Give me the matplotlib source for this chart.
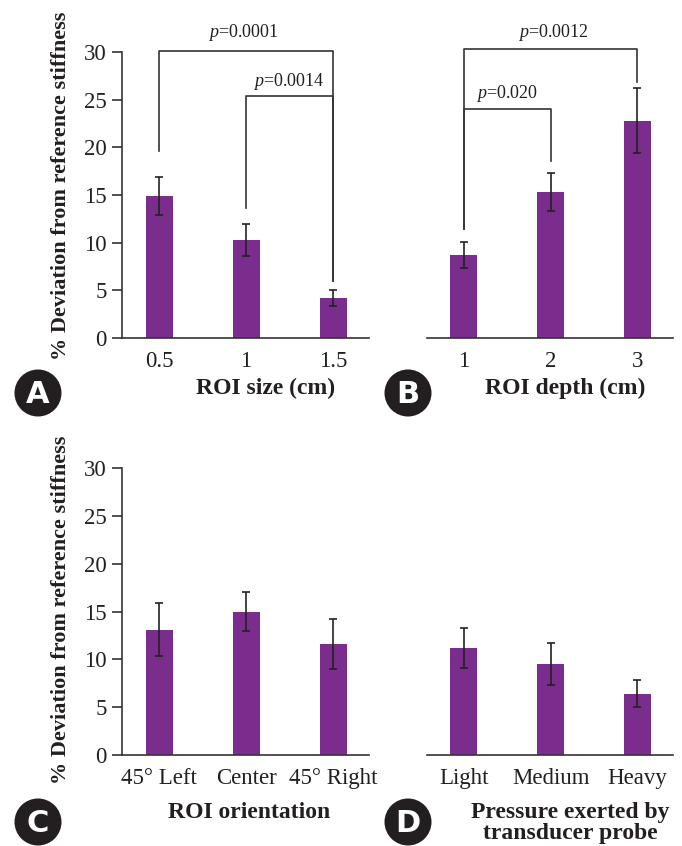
import numpy as np
import matplotlib
matplotlib.use("Agg")
import matplotlib.pyplot as plt
from matplotlib.patches import Circle

plt.rcParams['font.family'] = ['Liberation Serif', 'DejaVu Serif']
plt.rcParams['mathtext.fontset'] = 'custom'
plt.rcParams['mathtext.rm'] = 'Liberation Serif'
plt.rcParams['mathtext.it'] = 'Liberation Serif:italic'

# data
size_labels = ['0.5', '1', '1.5']
size_mean = [14.9, 10.3, 4.2]
size_err = [2.0, 1.7, 0.85]

depth_labels = ['1', '2', '3']
depth_mean = [8.7, 15.3, 22.8]
depth_err = [1.4, 2.0, 3.4]

orient_labels = ['45° Left', 'Center', '45° Right']
orient_mean = [13.1, 15.0, 11.6]
orient_err = [2.75, 2.05, 2.6]

press_labels = ['Light', 'Medium', 'Heavy']
press_mean = [11.2, 9.5, 6.4]
press_err = [2.1, 2.2, 1.4]

# brackets: (i, j, y, left leg bottom, right leg bottom, text, text x, text y)
size_brackets = [(0, 2, 30.1, 19.6, 6.0, 'p=0.0001', 0.97, 32.0),
                 (1, 2, 25.4, 13.6, 6.0, 'p=0.0014', 1.49, 26.9)]
depth_brackets = [(0, 2, 30.3, 11.4, 26.9, 'p=0.0012', 1.03, 32.0),
                  (0, 1, 24.0, 11.4, 18.6, 'p=0.020', 0.5, 25.6)]

W, H = 682, 846
fig = plt.figure(figsize=(W / 100, H / 100), dpi=100)

bar_color = '#7b2d8e'
line_color = '#333333'
text_color = '#231f20'


def make_ax(left, bottom_px, top_px, right):
    return fig.add_axes([left / W, (H - bottom_px) / H, (right - left) / W,
                         (bottom_px - top_px) / H])


def draw_panel(ax, labels, mean, err, show_y):
    x = np.arange(len(labels))
    ax.bar(x, mean, width=0.31, color=bar_color, zorder=2)
    ax.errorbar(x, mean, yerr=err, fmt='none', ecolor='#222222',
                elinewidth=1.2, capsize=3, capthick=1.2, zorder=3)
    ax.set_xlim(-0.425, 2.41)
    ax.set_ylim(0, 30)
    ax.set_xticks(x)
    ax.set_xticklabels(labels, fontsize=16.5, color=text_color)
    ax.tick_params(axis='x', length=0, pad=9)
    ax.spines['top'].set_visible(False)
    ax.spines['right'].set_visible(False)
    ax.spines['bottom'].set_color(line_color)
    ax.spines['bottom'].set_linewidth(1.2)
    if show_y:
        ax.set_yticks([0, 5, 10, 15, 20, 25, 30])
        ax.tick_params(axis='y', length=7, width=1.2, color=line_color,
                       labelsize=16.5, labelcolor=text_color, pad=4)
        ax.spines['left'].set_color(line_color)
        ax.spines['left'].set_linewidth(1.2)
    else:
        ax.spines['left'].set_visible(False)
        ax.set_yticks([])


def draw_brackets(ax, brackets):
    for i, j, y, yl, yr, txt, tx, ty in brackets:
        ax.plot([i, i, j, j], [yl, y, y, yr], color=line_color, lw=1.2,
                clip_on=False, zorder=4)
        ax.text(tx, ty, r'$p$' + txt[1:], ha='center', va='center',
                fontsize=13, color=text_color, clip_on=False)


axA = make_ax(122, 338, 52, 369)
axB = make_ax(427, 338, 52, 673)
axC = make_ax(122, 755, 468, 369)
axD = make_ax(427, 755, 468, 673)

draw_panel(axA, size_labels, size_mean, size_err, True)
draw_panel(axB, depth_labels, depth_mean, depth_err, False)
draw_panel(axC, orient_labels, orient_mean, orient_err, True)
draw_panel(axD, press_labels, press_mean, press_err, False)
draw_brackets(axA, size_brackets)
draw_brackets(axB, depth_brackets)

txt_kw = dict(fontweight='bold', color=text_color, ha='center', va='center')
ylab = '% Deviation from reference stiffness'
fig.text(61 / W, 1 - 186 / H, ylab, rotation=90, fontsize=16, **txt_kw)
fig.text(61 / W, 1 - 610 / H, ylab, rotation=90, fontsize=16, **txt_kw)
fig.text(266 / W, 1 - 388 / H, 'ROI size (cm)', fontsize=17, **txt_kw)
fig.text(565 / W, 1 - 388 / H, 'ROI depth (cm)', fontsize=17, **txt_kw)
fig.text(249 / W, 1 - 812 / H, 'ROI orientation', fontsize=17, **txt_kw)
fig.text(570 / W, 1 - 823 / H, 'Pressure exerted by\ntransducer probe',
         fontsize=17, linespacing=0.95, **txt_kw)

# panel letters in dark circles
for letter, cx, cy in [('A', 38, 393), ('B', 408, 393), ('C', 38, 822), ('D', 408, 822)]:
    circ = Circle((cx / 100, (H - cy) / 100), 0.235, transform=fig.dpi_scale_trans,
                  facecolor=text_color, edgecolor='none')
    fig.patches.append(circ)
    fig.text(cx / W, 1 - (cy + 1) / H, letter, family='DejaVu Sans',
             fontsize=22, fontweight='bold', color='white',
             ha='center', va='center')

fig.savefig('out.png', dpi=100)
